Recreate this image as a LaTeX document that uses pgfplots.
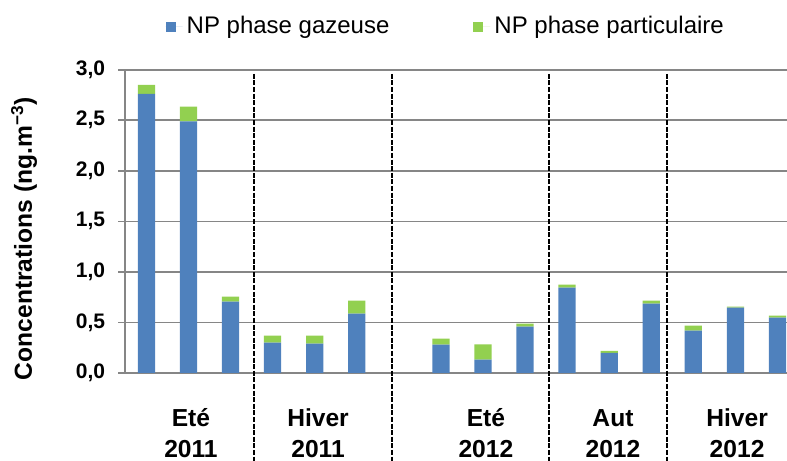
\documentclass[border=0pt]{standalone}
\usepackage{fontspec}
\setmainfont{Liberation Sans}
\usepackage{pgfplots}
\pgfplotsset{compat=1.18}
\definecolor{npgaz}{HTML}{4F81BD}
\definecolor{nppart}{HTML}{92D050}
\definecolor{gridgray}{HTML}{868686}

\tikzset{
  sep/.style={black, line width=1pt, dash pattern=on 2.5pt off 0.8pt},
  grp/.style={anchor=base, inner sep=0pt, font=\fontsize{12.3}{14}\selectfont\bfseries},
}

\begin{document}
\begin{tikzpicture}
\begin{axis}[
  scale only axis,
  width=331pt, height=151.65pt,
  ybar stacked, bar width=0.41,
  xmin=-0.506, xmax=15.226,
  ymin=0, ymax=3,
  ytick={0,0.5,1,1.5,2,2.5,3},
  xtick=\empty,
  axis x line*=bottom, axis y line*=left,
  axis line style={gridgray, line width=0.8pt, -},
  ymajorgrids, grid style={gridgray, line width=0.8pt},
  tick align=outside, major tick length=3.5pt,
  tick style={gridgray, line width=0.8pt},
  yticklabel style={font=\fontsize{10.5}{12}\selectfont\bfseries, xshift=-3pt},
  /pgf/number format/use comma,
  /pgf/number format/fixed,
  /pgf/number format/fixed zerofill,
  /pgf/number format/precision=1,
  /pgf/number format/assume math mode=true,
  ylabel={Concentrations (ng.m\textsuperscript{−3})},
  every axis y label/.style={at={(rel axis cs:-0.1526,0.443)}, rotate=90, anchor=center,
    font=\fontsize{12.3}{14}\selectfont\bfseries},
  legend style={at={(rel axis cs:0.486,1.142)}, anchor=center, draw=none,
    legend columns=2, font=\fontsize{12}{14}\selectfont,
    /tikz/every even column/.append style={column sep=40pt}},
  legend image code/.code={\fill[#1] (0pt,-2.5pt) rectangle (5pt,2.5pt);
    \path (0pt,0pt) -- (8.5pt,0pt);},
  clip=false,
]
\addplot[fill=npgaz, draw=none] coordinates {
(0,2.76) (1,2.49) (2,0.705) (3,0.30) (4,0.29) (5,0.587)
(7,0.28) (8,0.132) (9,0.458) (10,0.844) (11,0.20) (12,0.685)
(13,0.418) (14,0.646) (15,0.547)
};
\addlegendentry{NP phase gazeuse}
\addplot[fill=nppart, draw=none] coordinates {
(0,0.09) (1,0.145) (2,0.05) (3,0.07) (4,0.08) (5,0.13)
(7,0.06) (8,0.15) (9,0.03) (10,0.03) (11,0.02) (12,0.03)
(13,0.05) (14,0.01) (15,0.02)
};
\addlegendentry{NP phase particulaire}

% separateurs de saisons
\draw[sep] (axis cs:2.56,2.96) -- (axis cs:2.56,-0.87);
\draw[sep] (axis cs:5.84,2.96) -- (axis cs:5.84,-0.87);
\draw[sep] (axis cs:9.56,2.96) -- (axis cs:9.56,-0.87);
\draw[sep] (axis cs:12.37,2.96) -- (axis cs:12.37,-0.87);

% etiquettes des groupes
\node[grp] at (axis cs:1.06,-0.525) {Eté};
\node[grp] at (axis cs:1.06,-0.835) {2011};
\node[grp] at (axis cs:4.08,-0.525) {Hiver};
\node[grp] at (axis cs:4.08,-0.835) {2011};
\node[grp] at (axis cs:8.07,-0.525) {Eté};
\node[grp] at (axis cs:8.07,-0.835) {2012};
\node[grp] at (axis cs:11.09,-0.525) {Aut};
\node[grp] at (axis cs:11.09,-0.835) {2012};
\node[grp] at (axis cs:14.04,-0.525) {Hiver};
\node[grp] at (axis cs:14.04,-0.835) {2012};

\coordinate (bl) at (rel axis cs:-0.189,-0.29);
\coordinate (tr) at (rel axis cs:1,1.23);
\end{axis}
\pgfresetboundingbox
\path (bl) rectangle (tr);
\end{tikzpicture}
\end{document}
